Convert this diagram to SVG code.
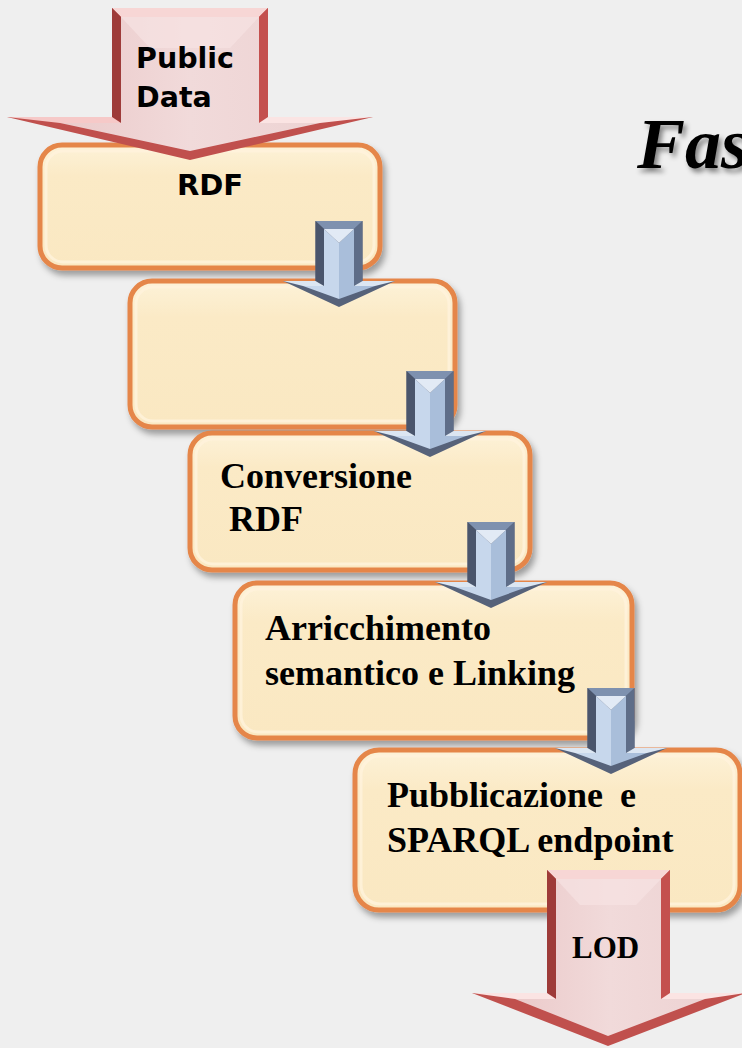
<svg xmlns="http://www.w3.org/2000/svg" xmlns:xlink="http://www.w3.org/1999/xlink" width="742" height="1048" viewBox="0 0 742 1048">
  <style>
    .box { fill: url(#boxFill); stroke: #E5864A; stroke-width: 5; }
    .boxInner { fill: none; stroke: #FFF3DC; stroke-width: 3; opacity: 0.8; }
    .sans { font-family: "DejaVu Sans", Verdana, sans-serif; font-weight: bold; fill: #000; }
    .serif { font-family: "Liberation Serif", "Times New Roman", serif; font-weight: bold; fill: #000; }
  </style>
  <defs>
    <linearGradient id="boxFill" x1="0" y1="0" x2="0" y2="1">
      <stop offset="0" stop-color="#FDF2D8"/>
      <stop offset="0.25" stop-color="#FBEAC6"/>
      <stop offset="1" stop-color="#FAE8C2"/>
    </linearGradient>
    <linearGradient id="pinkFace" x1="0" y1="0" x2="1" y2="0">
      <stop offset="0" stop-color="#EBCACA"/>
      <stop offset="0.5" stop-color="#F1DADA"/>
      <stop offset="1" stop-color="#EDD3D3"/>
    </linearGradient>
    <filter id="shadow" x="-10%" y="-10%" width="125%" height="130%">
      <feDropShadow dx="3" dy="5" stdDeviation="3" flood-color="#000" flood-opacity="0.35"/>
    </filter>
    <filter id="textShadow" x="-10%" y="-10%" width="130%" height="140%">
      <feDropShadow dx="3" dy="4" stdDeviation="2.5" flood-color="#000" flood-opacity="0.45"/>
    </filter>
    <!-- blue bevelled down arrow; origin = shaft centre at wing line -->
    <g id="blueArrow">
      <path d="M-23.5,-60 H23.5 V0 H56 L0,26 L-56,0 H-23.5 Z" fill="#56627A"/>
      <polygon points="-23.5,-60 23.5,-60 15,-52 -15,-52" fill="#7E91AF"/>
      <polygon points="-23.5,-60 -15,-52 -15,5 -23.5,0" fill="#4A556C"/>
      <polygon points="23.5,-60 15,-52 15,5 23.5,0" fill="#5E6D88"/>
      <polygon points="-56,0 -23.5,0 -15,5 -36,5" fill="#DCE6F2"/>
      <polygon points="56,0 23.5,0 15,5 36,5" fill="#DCE6F2"/>
      <polygon points="-15,-52 0,-38 0,18 -36,5 -15,5" fill="#C7D7EC"/>
      <polygon points="15,-52 0,-38 0,18 36,5 15,5" fill="#A9BEDA"/>
      <polygon points="-15,-52 15,-52 0,-38" fill="#E2EAF5"/>
    </g>
  </defs>

  <rect x="0" y="0" width="742" height="1048" fill="#EFEFEF"/>

  <text class="serif" x="637" y="168" font-size="72" font-style="italic" filter="url(#textShadow)">Fas</text>

  <!-- process steps -->
  <g id="step1" filter="url(#shadow)">
    <rect class="box" x="40" y="145" width="340" height="123" rx="22"/>
    <rect class="boxInner" x="46" y="151" width="328" height="111" rx="17"/>
  </g>
  <g id="step2" filter="url(#shadow)">
    <rect class="box" x="130" y="281" width="325" height="146" rx="22"/>
    <rect class="boxInner" x="136" y="287" width="313" height="134" rx="17"/>
  </g>
  <g id="step3" filter="url(#shadow)">
    <rect class="box" x="190" y="433" width="340" height="137" rx="22"/>
    <rect class="boxInner" x="196" y="439" width="328" height="125" rx="17"/>
  </g>
  <g id="step4" filter="url(#shadow)">
    <rect class="box" x="235" y="583" width="397" height="155" rx="22"/>
    <rect class="boxInner" x="241" y="589" width="385" height="143" rx="17"/>
  </g>
  <g id="step5" filter="url(#shadow)">
    <rect class="box" x="355" y="750" width="385" height="160" rx="24"/>
    <rect class="boxInner" x="361" y="756" width="373" height="148" rx="19"/>
  </g>

  <!-- step labels -->
  <g id="labels">
    <text class="sans" x="210" y="195" font-size="29" text-anchor="middle">RDF</text>
    <text class="serif" font-size="36" x="220" y="488">Conversione</text>
    <text class="serif" font-size="36" x="229" y="531">RDF</text>
    <text class="serif" font-size="36" x="265" y="640">Arricchimento</text>
    <text class="serif" font-size="36" x="265" y="685">semantico e Linking</text>
    <text class="serif" font-size="36" x="387" y="807" word-spacing="8">Pubblicazione e</text>
    <text class="serif" font-size="36" x="387" y="852">SPARQL endpoint</text>
  </g>

  <!-- connectors between steps -->
  <g id="connectors">
    <use xlink:href="#blueArrow" transform="translate(339,281)"/>
    <use xlink:href="#blueArrow" transform="translate(430,431)"/>
    <use xlink:href="#blueArrow" transform="translate(491,582)"/>
    <use xlink:href="#blueArrow" transform="translate(611,748)"/>
  </g>

  <!-- input arrow -->
  <g id="input-public-data">
    <path d="M112,8 H268 V117 H373 L190,160 L7,117 H112 Z" fill="#C0504D"/>
    <polygon points="112,8 268,8 259,17 121,17" fill="#F7D6D5"/>
    <polygon points="112,8 121,17 121,123 112,117" fill="#9E3B39"/>
    <polygon points="268,8 259,17 259,123 268,117" fill="#C4504E"/>
    <polygon points="7,117 112,117 121,123 60,123" fill="#F6C9C8"/>
    <polygon points="373,117 268,117 259,123 320,123" fill="#FBE4E3"/>
    <polygon points="121,17 259,17 259,123 320,123 190,151 60,123 121,123 Z" fill="url(#pinkFace)"/>
    <polygon points="121,17 259,17 230,48 150,48" fill="#F6E2E2" opacity="0.7"/>
    <text class="sans" font-size="28.5" x="136" y="68">Public</text>
    <text class="sans" font-size="28.5" x="136" y="107">Data</text>
  </g>

  <!-- output arrow -->
  <g id="output-lod">
    <path d="M547,870 H670 V993 H746 L608,1046 L472,993 H547 Z" fill="#C0504D"/>
    <polygon points="547,870 670,870 661,879 556,879" fill="#F7D6D5"/>
    <polygon points="547,870 556,879 556,999 547,993" fill="#9E3B39"/>
    <polygon points="670,870 661,879 661,999 670,993" fill="#C4504E"/>
    <polygon points="472,993 547,993 556,999 515,999" fill="#FBE4E3"/>
    <polygon points="746,993 670,993 661,999 705,999" fill="#FBE4E3"/>
    <polygon points="556,879 661,879 661,999 705,999 608,1036 515,999 556,999 Z" fill="url(#pinkFace)"/>
    <polygon points="556,879 661,879 636,905 580,905" fill="#F6E2E2" opacity="0.7"/>
    <text class="serif" font-size="31" x="572" y="958">LOD</text>
  </g>
</svg>
